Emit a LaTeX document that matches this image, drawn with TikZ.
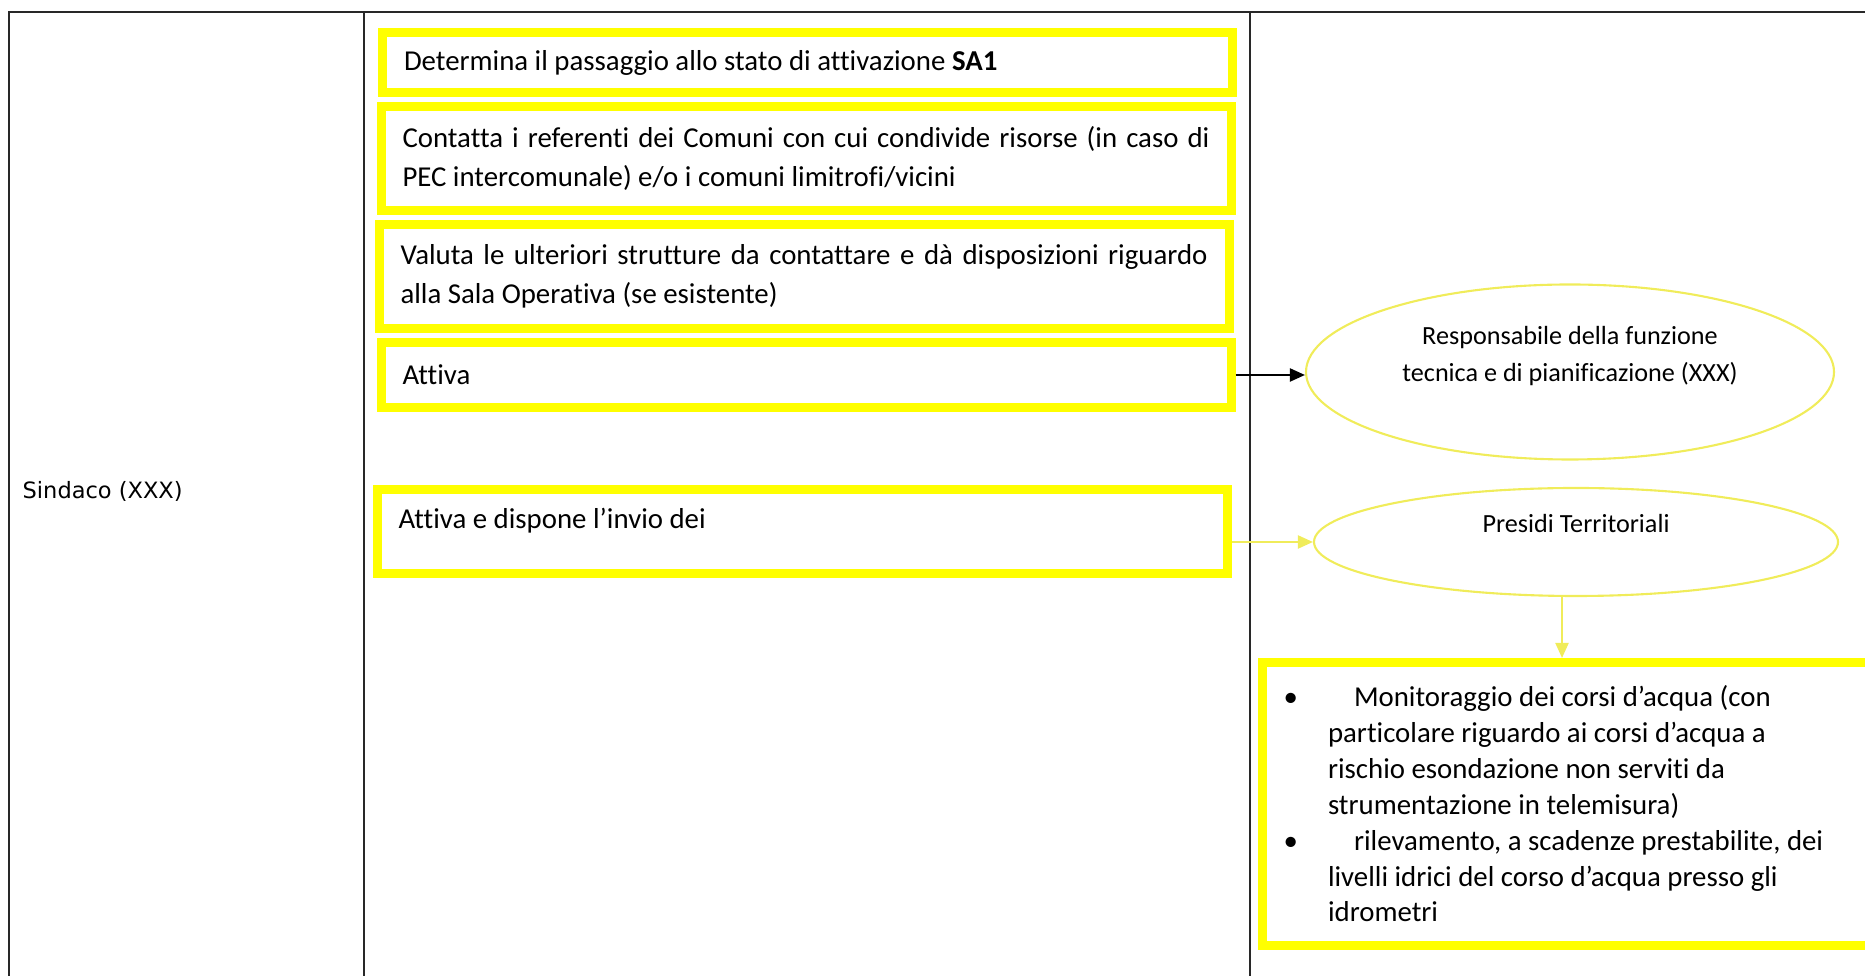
\documentclass[tikz,border=0pt]{standalone}
\usepackage{fontspec}
\setmainfont{Carlito}[Ligatures=NoCommon]
\newfontfamily\sindfont{DejaVu Sans}
\usetikzlibrary{arrows.meta,calc,positioning,shapes.geometric}
\definecolor{pcyellow}{RGB}{255,255,0}
\definecolor{pcpale}{RGB}{240,236,90}
\definecolor{pcgrid}{RGB}{40,40,40}
\newcommand{\pcbullet}{\leavevmode\llap{\textbullet\hspace{0.3cm}}\hspace*{0.26cm}}

\begin{document}
\begin{tikzpicture}[>={Triangle[length=1.5mm,width=1.3mm]},
        act/.style={draw=pcyellow,line width=0.09cm,minimum width=8.5cm,text width=8.07cm,
          inner xsep=0.215cm,inner ysep=0pt,align=justify,font=\fontsize{8.2}{11.2}\selectfont},
        panel/.style={draw=pcyellow,line width=0.09cm,minimum width=6.175cm,minimum height=2.83cm,
          inner xsep=0.2cm,inner ysep=0pt,font=\fontsize{8.2}{10.2}\selectfont},
        oval/.style={draw=pcpale,line width=0.6pt,ellipse,align=center,inner sep=0pt,
          font=\fontsize{7.45}{10.5}\selectfont},
        flow/.style={->,line width=0.6pt}]
  \useasboundingbox (0,0) rectangle (18.65,9.76);
  % table grid
  \draw[pcgrid,line width=0.55pt] (0.09,0) -- (0.09,9.64) -- (18.65,9.64);
  \draw[pcgrid,line width=0.55pt] (3.64,0) -- (3.64,9.64) (12.50,0) -- (12.50,9.64);
  \node[anchor=west,inner sep=0pt,font=\sindfont\fontsize{6.4}{8}\selectfont] (sind) at (0.22,4.85) {Sindaco (XXX)};
  % actions
  \node[act,minimum height=0.60cm] (sa1) at (8.075,9.135) {Determina il passaggio allo stato di attivazione \textbf{SA1}};
  \node[act,minimum height=1.04cm] (cont) at (8.06,8.175) {Contatta i referenti dei Comuni con cui condivide risorse (in caso di\linebreak PEC intercomunale) e/o i comuni limitrofi/vicini};
  \node[act,minimum height=1.04cm] (valu) at (8.04,6.995) {Valuta le ulteriori strutture da contattare e dà disposizioni riguardo\linebreak alla Sala Operativa (se esistente)};
  \node[act,minimum height=0.65cm] (attiva) at (8.06,6.01) {Attiva};
  \node[act,minimum height=0.84cm,text height=5.5pt,text depth=7pt] (invio) at (8.02,4.445) {Attiva e dispone l’invio dei};
  % activated
  \node[oval,minimum width=5.28cm,minimum height=1.75cm] (resp) at (15.70,6.04) {Responsabile della funzione\\tecnica e di pianificazione (XXX)\\\mbox{}};
  \node[oval,minimum width=5.24cm,minimum height=1.08cm] (pres) at (15.76,4.34) {Presidi Territoriali\\\mbox{}};
  \node[panel] (mon) at (15.7125,1.72) {\parbox{5.775cm}{\raggedright\leftskip=0.455cm
    \pcbullet Monitoraggio dei corsi d’acqua (con\\
    particolare riguardo ai corsi d’acqua a\\
    rischio esondazione non serviti da\\
    strumentazione in telemisura)\\
    \pcbullet rilevamento, a scadenze prestabilite, dei\\
    livelli idrici del corso d’acqua presso gli\\
    idrometri\par}};
  \coordinate (drop) at (15.62,0);
  \draw[flow] (attiva.east) -- (attiva.east -| resp.west);
  \draw[flow,pcpale] (invio.east |- pres.west) -- (pres.west);
  \draw[flow,pcpale] (pres.south -| drop) -- (mon.north -| drop);
\end{tikzpicture}
\end{document}
